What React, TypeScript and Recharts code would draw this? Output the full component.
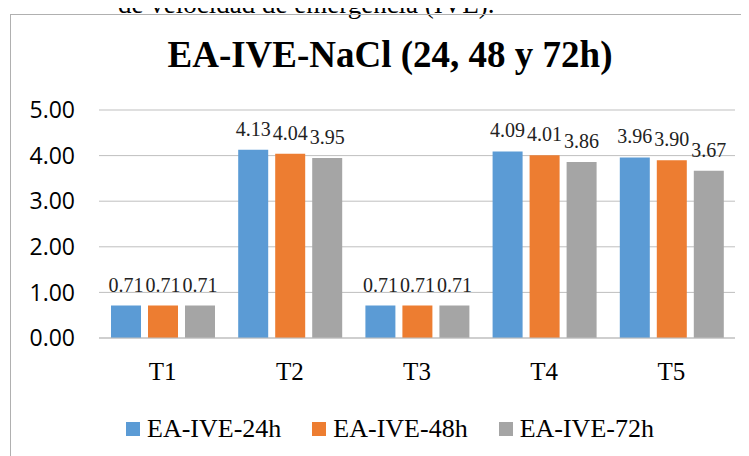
import { BarChart, Bar, XAxis, YAxis, CartesianGrid, Legend, LabelList } from 'recharts'

const categories = ['T1', 'T2', 'T3', 'T4', 'T5']
const ive24h = [0.71, 4.13, 0.71, 4.09, 3.96]
const ive48h = [0.71, 4.04, 0.71, 4.01, 3.9]
const ive72h = [0.71, 3.95, 0.71, 3.86, 3.67]
const yTicks = [0, 1, 2, 3, 4, 5]

const seriesNames = ['EA-IVE-24h', 'EA-IVE-48h', 'EA-IVE-72h']
const colors = ['#5B9BD5', '#ED7D31', '#A5A5A5']

const data = categories.map((name, i) => ({
  name,
  [seriesNames[0]]: ive24h[i],
  [seriesNames[1]]: ive48h[i],
  [seriesNames[2]]: ive72h[i],
}))

const serif = '"Liberation Serif", "Times New Roman", serif'

function LegendContent() {
  return (
    <div style={{ display: 'flex', justifyContent: 'center', alignItems: 'center', gap: 31 }}>
      {seriesNames.map((s, i) => (
        <div key={s} style={{ display: 'flex', alignItems: 'center' }}>
          <div style={{ width: 14, height: 14, background: colors[i], marginRight: 7 }}></div>
          <span style={{ fontFamily: serif, fontSize: 26, color: '#000', lineHeight: '28px' }}>{s}</span>
        </div>
      ))}
    </div>
  )
}

export default function App() {
  return (
    <div style={{ position: 'relative', width: 741, height: 448, overflow: 'hidden', background: '#fff' }}>
      {/* caption of the document, cut by the top of the page */}
      <div
        style={{
          position: 'absolute',
          left: 110,
          top: -17,
          fontFamily: serif,
          fontSize: 27,
          lineHeight: 1,
          whiteSpace: 'nowrap',
          color: '#000',
        }}
      >
        de velocidad de emergencia (IVE).
      </div>
      <div
        style={{
          position: 'absolute',
          left: 2,
          top: 6,
          width: 800,
          height: 500,
          border: '1px solid #B0B0B0',
        }}
      ></div>
      <div
        style={{
          position: 'absolute',
          left: 0,
          width: 764,
          top: 28,
          textAlign: 'center',
          fontFamily: serif,
          fontWeight: 'bold',
          fontSize: 37,
          lineHeight: 1,
          whiteSpace: 'nowrap',
          color: '#000',
          zIndex: 2,
        }}
      >
        EA-IVE-NaCl (24, 48 y 72h)
      </div>
      <div style={{ position: 'absolute', left: 0, top: 0 }}>
        <BarChart
          width={741}
          height={448}
          data={data}
          margin={{ top: 102, right: 14, left: 0, bottom: 88 }}
          barSize={30}
          barGap={7}
        >
          <CartesianGrid vertical={false} stroke="#BFBFBF" />
          <XAxis
            dataKey="name"
            axisLine={{ stroke: '#BFBFBF' }}
            tickLine={false}
            tickSize={0}
            tickMargin={24}
            tick={{ fontFamily: serif, fontSize: 25, fill: '#000' }}
          />
          <YAxis
            width={91}
            domain={[0, 5]}
            ticks={yTicks}
            axisLine={false}
            tickLine={false}
            tickSize={0}
            tickMargin={24}
            tickFormatter={(v: number) => v.toFixed(2)}
            tick={{ fontFamily: '"Open Sans", sans-serif', fontSize: 23, fill: '#000' }}
          />
          <Legend
            layout="horizontal"
            verticalAlign="middle"
            align="center"
            content={<LegendContent />}
            wrapperStyle={{ top: 407, left: 0, width: 764, height: 30 }}
          />
          {seriesNames.map((s, i) => (
            <Bar key={s} dataKey={s} fill={colors[i]} isAnimationActive={false}>
              <LabelList
                dataKey={s}
                position="top"
                offset={14}
                formatter={(v: number) => v.toFixed(2)}
                style={{ fontFamily: serif, fontSize: 20, fill: '#222' }}
              />
            </Bar>
          ))}
        </BarChart>
      </div>
    </div>
  )
}
